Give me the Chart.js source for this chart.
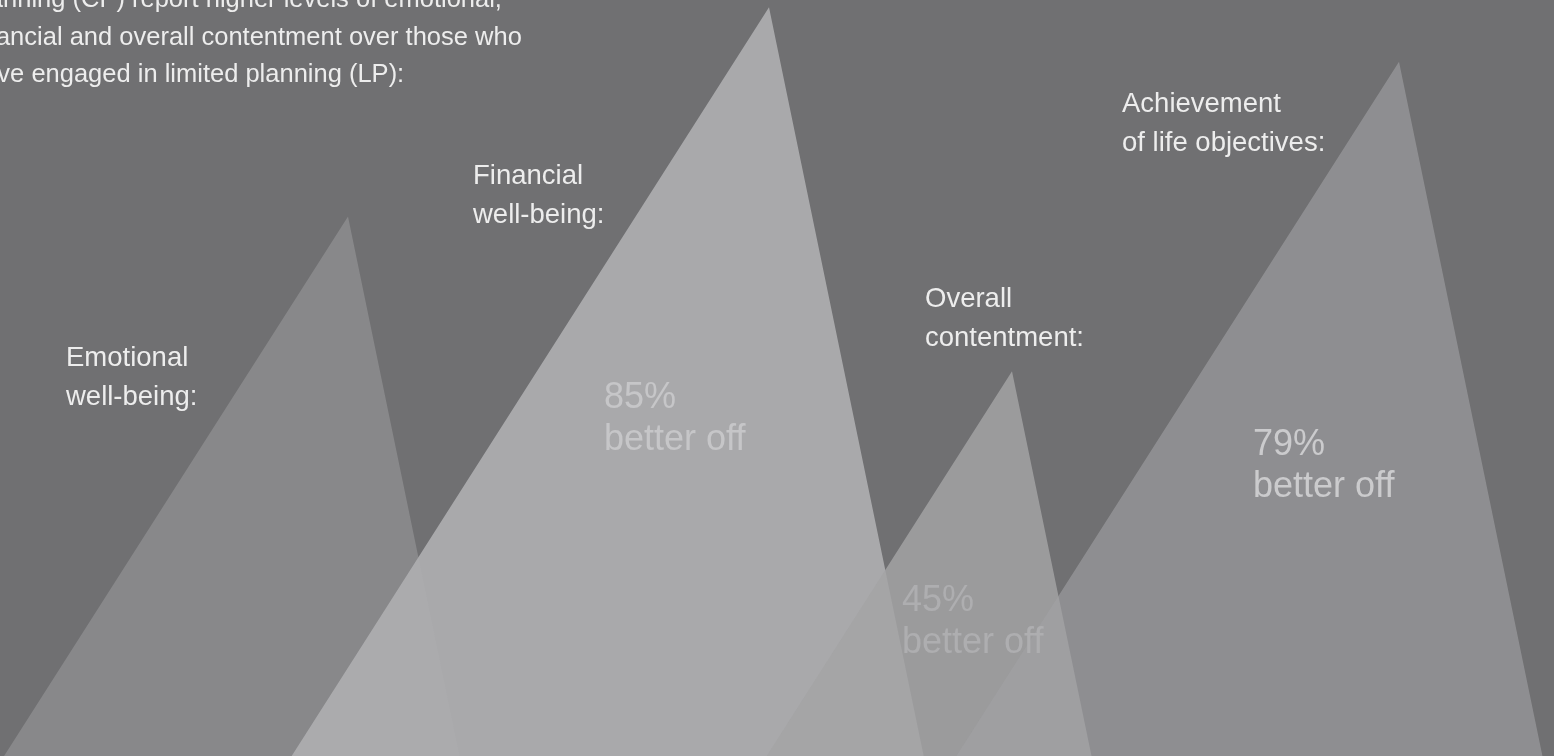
<!DOCTYPE html>
<html>
<head>
<meta charset="utf-8">
<script src="https://cdn.jsdelivr.net/npm/chart.js@4"></script>
<style>
  html, body { margin: 0; padding: 0; background: #707072; overflow: hidden; }
  #wrap { position: relative; width: 1554px; height: 756px; }
</style>
</head>
<body>
<div id="wrap"><canvas id="myChart"></canvas></div>
<script>
// data
const categories = ['Emotional well-being:', 'Financial well-being:', 'Overall contentment:', 'Achievement of life objectives:'];
const betterOff = [62, 85, 45, 79];          // % better off (emotional value not printed, read from peak height)
const showValue = [false, true, true, true];
const introLines = [
    'planning (CP) report higher levels of emotional,',
    'financial and overall contentment over those who',
    'have engaged in limited planning (LP):'
];

// layout
const peakX = [348, 769, 1012, 1399];        // x position of each peak
const spreadLeft = 5.8;                       // base spread per % to the left
const spreadRight = 1.88;                     // and to the right
const fills = ['rgba(160,160,162,0.5)', 'rgba(175,175,177,0.91)', 'rgba(163,163,165,0.83)', 'rgba(162,162,164,0.62)'];
const valueColors = ['#c4c4c6', '#c6c6c8', '#aeaeb0', '#cbcbcd'];
const labelPos = [[66, 366], [473, 184], [925, 307], [1122, 112]];
const valuePos = [[0, 0], [604, 408], [902, 611], [1253, 455]];
const FONT = '"Liberation Sans", Arial, Helvetica, sans-serif';

document.addEventListener('DOMContentLoaded', () => {
    const ctx = document.getElementById('myChart');

    const datasets = categories.map((name, i) => ({
        label: name,
        data: [
            { x: peakX[i] - spreadLeft * betterOff[i], y: 0 },
            { x: peakX[i], y: betterOff[i] },
            { x: peakX[i] + spreadRight * betterOff[i], y: 0 }
        ],
        backgroundColor: fills[i],
        borderWidth: 0,
        pointRadius: 0,
        fill: 'origin',
        tension: 0,
        order: categories.length - i   // first peak drawn first (underneath)
    }));

    // texts on top of the peaks
    const textPlugin = {
        id: 'texts',
        afterDatasetsDraw(chart) {
            const c = chart.ctx;
            c.save();
            c.textBaseline = 'alphabetic';
            c.textAlign = 'left';
            c.fillStyle = '#ededed';
            c.font = '25.5px ' + FONT;
            introLines.forEach((line, j) => c.fillText(line, -31, 7 + j * 37.5));

            c.font = '27.5px ' + FONT;
            categories.forEach((name, i) => {
                const words = name.split(' ');
                c.fillText(words[0], labelPos[i][0], labelPos[i][1]);
                c.fillText(words.slice(1).join(' '), labelPos[i][0], labelPos[i][1] + 39);
            });

            c.font = '36px ' + FONT;
            betterOff.forEach((v, i) => {
                if (!showValue[i]) return;
                c.fillStyle = valueColors[i];
                c.fillText(v + '%', valuePos[i][0], valuePos[i][1]);
                c.fillText('better off', valuePos[i][0], valuePos[i][1] + 42);
            });
            c.restore();
        }
    };

    new Chart(ctx, {
        type: 'line',
        data: { datasets: datasets },
        options: {
            responsive: true,
            maintainAspectRatio: false,
            animation: false,
            layout: { padding: 0 },
            plugins: { legend: { display: false }, tooltip: { enabled: false } },
            scales: {
                x: { type: 'linear', min: 0, max: 1554, display: false },
                y: { type: 'linear', min: 2.7, max: 85.8, display: false }
            }
        },
        plugins: [textPlugin]
    });
});
</script>
</body>
</html>
